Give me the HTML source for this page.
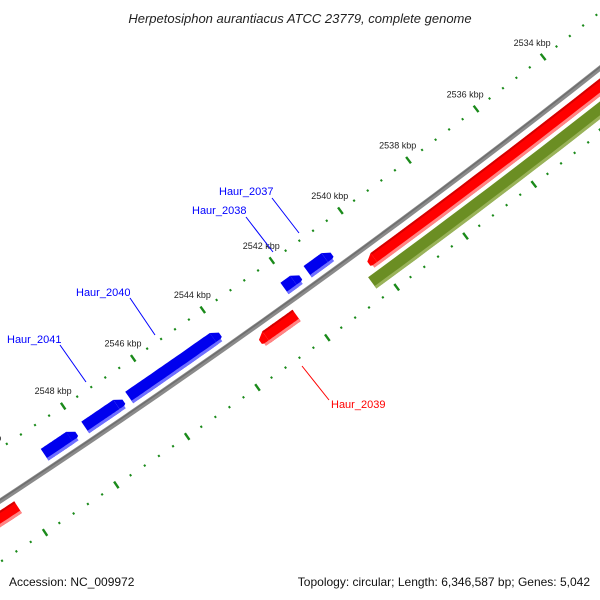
<!DOCTYPE html>
<html><head><meta charset="utf-8"><style>
html,body{margin:0;padding:0;background:#fff;width:600px;height:600px;overflow:hidden;}
svg{display:block;font-family:"Liberation Sans",sans-serif;}
</style></head><body>
<svg id="map" width="600" height="600" viewBox="0 0 600 600" xmlns="http://www.w3.org/2000/svg">
<rect width="600" height="600" fill="#fff"/>
<g id="tracks"></g>
<g id="labels">
<text x="300" y="23" text-anchor="middle" font-size="13" font-style="italic" fill="#222">Herpetosiphon aurantiacus ATCC 23779, complete genome</text>
<text x="9" y="586" font-size="12" fill="#111">Accession: NC_009972</text>
<text x="590" y="586" text-anchor="end" font-size="12" fill="#111">Topology: circular; Length: 6,346,587 bp; Genes: 5,042</text>
</g>
<g font-size="11">
<line x1="272" y1="198" x2="299" y2="233" stroke="#0000ff" stroke-width="1"/>
<text x="219" y="195" fill="#0000ff">Haur_2037</text>
<line x1="246" y1="217" x2="273" y2="252" stroke="#0000ff" stroke-width="1"/>
<text x="192" y="214" fill="#0000ff">Haur_2038</text>
<line x1="130" y1="298" x2="155" y2="335" stroke="#0000ff" stroke-width="1"/>
<text x="76" y="296" fill="#0000ff">Haur_2040</text>
<line x1="60" y1="345" x2="86" y2="382" stroke="#0000ff" stroke-width="1"/>
<text x="7" y="343" fill="#0000ff">Haur_2041</text>
<line x1="302" y1="366" x2="329" y2="400" stroke="#ff0000" stroke-width="1"/>
<text x="331" y="408" fill="#ff0000">Haur_2039</text>
</g>
</svg>
<script>
// data
const majorTicks = [2528,2530,2532,2534,2536,2538,2540,2542,2544,2546,2548,2550,2552];
const tickLabels = ["2528 kbp","2530 kbp","2532 kbp","2534 kbp","2536 kbp","2538 kbp","2540 kbp","2542 kbp","2544 kbp","2546 kbp","2548 kbp","2550 kbp","2552 kbp"];
const geneNames = ["Haur_2037","Haur_2038","Haur_2039","Haur_2040","Haur_2041","gene_fwd_a","gene_rev_a","gene_rev_b","feature_other"];
const geneStart = [2540.77,2541.68,2542.28,2544.0,2546.76,2548.1,2550.2,2525.0,2525.0];
const geneEnd   = [2541.47,2542.14,2543.33,2546.6,2547.85,2549.0,2553.0,2540.2,2540.4];
const geneStrand= [1,1,-1,1,1,1,-1,-1,0];

const CX=-4700, CY=-6646;
const deg0=53.68, degPerKbp=0.2855, k0=2540;
const R_RULER_OUT=8510, R_LABEL=8492, R_FWD=8540, R_BACK=8554, R_REV=8569, R_OTHER=8587, R_RULER_IN=8605;
function ang(k){return (deg0+(k-k0)*degPerKbp)*Math.PI/180;}
function pt(k,r){const a=ang(k);return [CX+r*Math.cos(a), CY+r*Math.sin(a)];}
const NS="http://www.w3.org/2000/svg";
const g=document.getElementById('tracks');
function mk(tag,attrs){const e=document.createElementNS(NS,tag);for(const a in attrs)e.setAttribute(a,attrs[a]);return e;}
function arcPts(k1,k2,r){const n=40,out=[];for(let i=0;i<=n;i++){out.push(pt(k1+(k2-k1)*i/n,r));}return out;}
function band(k1,k2,r1,r2,fill){
  const a=arcPts(k1,k2,r1), b=arcPts(k2,k1,r2);
  return mk('polygon',{points:a.concat(b).map(p=>p[0].toFixed(1)+','+p[1].toFixed(1)).join(' '),fill:fill});
}
const bb=mk('polyline',{points:arcPts(2520,2560,R_BACK).map(p=>p.join(',')).join(' '),fill:'none',stroke:'#8a8a8a','stroke-width':5});


g.appendChild(bb);
const bb2=mk('polyline',{points:arcPts(2520,2560,R_BACK-1).map(p=>p.join(',')).join(' '),fill:'none',stroke:'#6e6e6e','stroke-width':1.5});
g.appendChild(bb2);

for(let k=2526;k<=2556.001;k+=0.4){
  const kk=Math.round(k*10)/10;
  const major=Math.abs(kk/2-Math.round(kk/2))<1e-6;
  [R_RULER_OUT,R_RULER_IN].forEach((r,ri)=>{
    const h=major?4:1.1;
    const p1=pt(kk,r-h),p2=pt(kk,r+h);
    const t=mk('line',{x1:p1[0],y1:p1[1],x2:p2[0],y2:p2[1],stroke:'#1a8a1a','stroke-width':major?2.4:2});
    
    
    g.appendChild(t);
  });
}
majorTicks.forEach((k,i)=>{
  const p=pt(k,R_LABEL);
  const t=mk('text',{x:p[0].toFixed(1),y:(p[1]+3).toFixed(1),'text-anchor':'middle','font-size':9,fill:'#222'});
  t.textContent=tickLabels[i];
  
  
  g.appendChild(t);
});

geneNames.forEach((nm,i)=>{
  const s=geneStrand[i];
  const r=s===1?R_FWD:(s===-1?R_REV:R_OTHER);
  const main=s===1?'#0000ee':(s===-1?'#ff0000':'#6b8e23');
  const light=s===1?'#6f6fff':(s===-1?'#ff8585':'#9ab35a');
  const dark=s===1?'#0000c0':(s===-1?'#d40000':'#56741a');
  const grp=mk('g',{});
  
  
  let k1=geneStart[i],k2=geneEnd[i];
  const head=0.18;
  if(s===1){
    grp.appendChild(band(k1+head,k2,r-7,r+7,main));
    const a=pt(k1+head,r-7),b=pt(k1,r-2),c=pt(k1,r+3),d=pt(k1+head,r+7);
    grp.appendChild(mk('polygon',{points:[a,b,c,d].map(p=>p.join(',')).join(' '),fill:main}));
    grp.appendChild(band(k1+0.05,k2,r+4,r+7,light));
  } else if(s===-1){
    grp.appendChild(band(k1,k2-head,r-7,r+7,main));
    const a=pt(k2-head,r-7),b=pt(k2,r-2),c=pt(k2,r+3),d=pt(k2-head,r+7);
    grp.appendChild(mk('polygon',{points:[a,b,c,d].map(p=>p.join(',')).join(' '),fill:main}));
    grp.appendChild(band(k1,k2-0.05,r+4,r+7,light));
    grp.appendChild(band(k1,k2-head,r-7,r-5,dark));
  } else {
    grp.appendChild(band(k1,k2,r-7,r+7,main));
    grp.appendChild(band(k1,k2,r+4,r+7,light));
  }
  g.appendChild(grp);
});
</script>
</body></html>
